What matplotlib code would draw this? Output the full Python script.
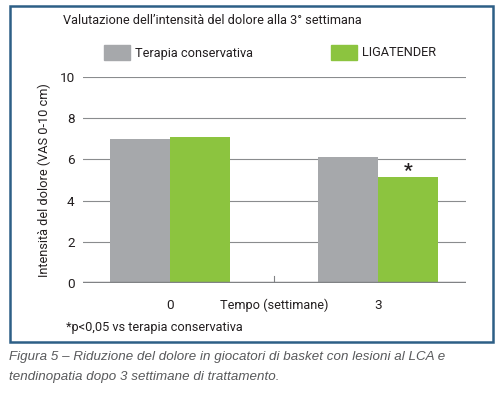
import matplotlib
matplotlib.use("Agg")
import matplotlib.pyplot as plt
from matplotlib.patches import Rectangle
import numpy as np

categories = ["0", "3"]
series_names = ["Terapia conservativa", "LIGATENDER"]
conservativa = [7.0, 6.1]
ligatender = [7.1, 5.15]
yticks = [0, 2, 4, 6, 8, 10]

GRAY = "#a6a8ab"
GREEN = "#8cc43f"
BLUE = "#2d5f86"
TXT = "#231f20"

plt.rcParams["font.family"] = ["Roboto", "DejaVu Sans"]
FS = 9.2

W, H = 500, 399
fig = plt.figure(figsize=(W / 100, H / 100), dpi=100)

def fx(px):
    return px / W

def fy(py):
    return 1 - py / H

# border box
fig.patches.append(Rectangle((fx(9.5), fy(342)), fx(492.5) - fx(9.5), fy(5.5) - fy(342),
                             transform=fig.transFigure, fill=False, edgecolor=BLUE, lw=1.8))

ax = fig.add_axes([fx(83), fy(283), fx(466) - fx(83), fy(77) - fy(283)])
x = np.arange(len(categories))
w = 0.288
ax.set_xlim(-0.417, 1.42)
ax.set_ylim(0, 10)
for v in yticks[1:]:
    ax.axhline(v, color="#8a8c8e", lw=0.8, zorder=1)
ax.axhline(0, color="#808285", lw=2.5, zorder=3)
ax.bar(x - w / 2, conservativa, w, color=GRAY, zorder=2)
ax.bar(x + w / 2, ligatender, w, color=GREEN, zorder=2)
ax.plot([0.5, 0.5], [0, 0.35], color="#808285", lw=0.8, zorder=3)
ax.text(1 + w / 2, ligatender[1] + 0.3, "*", ha="center", va="center", fontsize=14,
        fontweight="bold", color=TXT)

for s in ax.spines.values():
    s.set_visible(False)
ax.set_xticks([])
ax.set_yticks(yticks)
ax.tick_params(axis="y", length=0, pad=6, labelsize=FS + 0.5, labelcolor=TXT)
ax.set_ylabel("Intensità del dolore (VAS 0-10 cm)", fontsize=FS, color=TXT, labelpad=6)

for xi, lab in zip(x, categories):
    ax.text(xi, -1.08, lab, ha="center", va="center", fontsize=FS + 0.5, color=TXT)
ax.text(0.5, -1.08, "Tempo (settimane)", ha="center", va="center", fontsize=FS, color=TXT)

fig.text(fx(63), fy(20), "Valutazione dell’intensità del dolore alla 3° settimana",
         ha="left", va="center", fontsize=FS, color=TXT)

# legend
for px, name, col in [(104, series_names[0], GRAY), (331, series_names[1], GREEN)]:
    fig.patches.append(Rectangle((fx(px), fy(60)), fx(26), fy(45) - fy(60),
                                 transform=fig.transFigure, color=col))
    fig.text(fx(px + 31), fy(53), name, ha="left", va="center", fontsize=FS, color=TXT)

fig.text(fx(66), fy(327), "*p<0,05 vs terapia conservativa", ha="left", va="center",
         fontsize=FS, color=TXT)

cap = "Figura 5 – Riduzione del dolore in giocatori di basket con lesioni al LCA e\ntendinopatia dopo 3 settimane di trattamento."
fig.text(fx(9), fy(367), cap, ha="left", va="center", fontsize=9.6, color="#58595b",
         style="italic", family=["Liberation Sans", "DejaVu Sans"], linespacing=1.9)

fig.savefig("out.png", dpi=100)
